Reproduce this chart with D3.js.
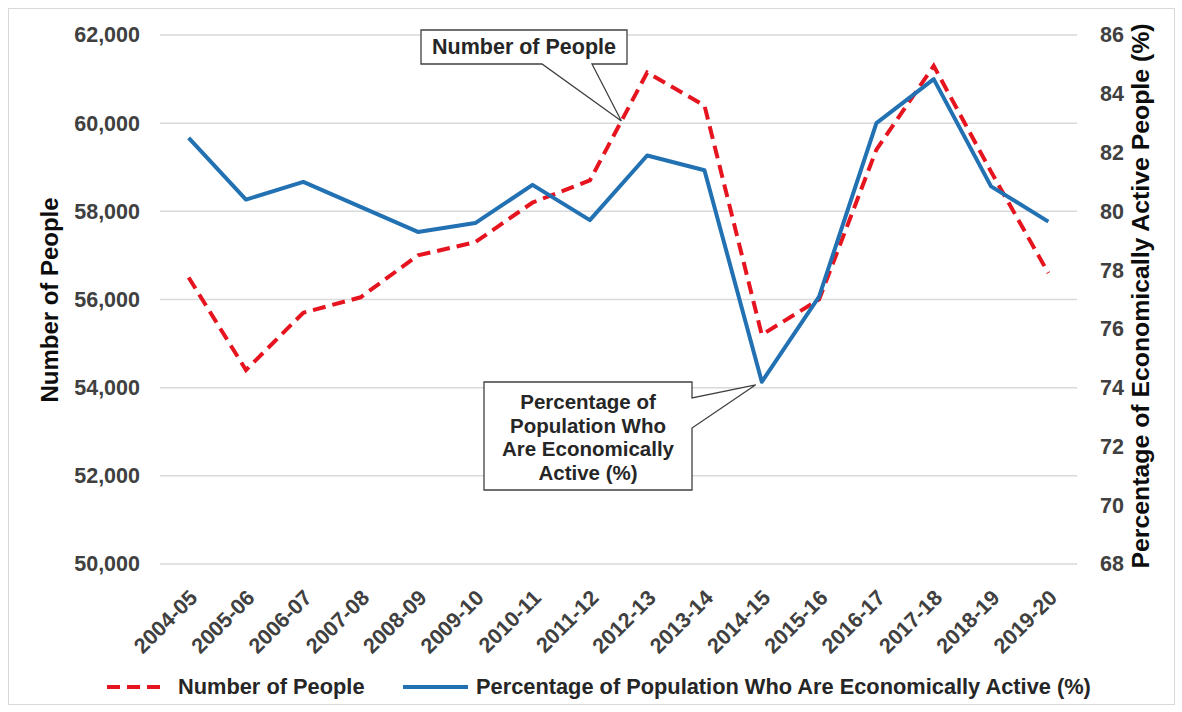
<!DOCTYPE html>
<html>
<head>
<meta charset="utf-8">
<script src="https://cdn.jsdelivr.net/npm/d3@7"></script>
<style>
  html, body { margin: 0; padding: 0; background: #fff; }
  svg { display: block; font-family: "Liberation Sans", Arial, sans-serif; font-weight: bold; }
</style>
</head>
<body>
<svg id="chart" width="1182" height="712"></svg>
<script>
const categories = ["2004-05","2005-06","2006-07","2007-08","2008-09","2009-10","2010-11","2011-12","2012-13","2013-14","2014-15","2015-16","2016-17","2017-18","2018-19","2019-20"];
const people = [56500, 54400, 55700, 56050, 57000, 57300, 58200, 58700, 61150, 60400, 55200, 56000, 59400, 61300, 58900, 56600];
const pctActive = [82.5, 80.4, 81.0, 80.15, 79.3, 79.6, 80.9, 79.7, 81.9, 81.4, 74.2, 77.1, 83.0, 84.5, 80.85, 79.65];
const leftTicks = [50000, 52000, 54000, 56000, 58000, 60000, 62000];
const rightTicks = [68, 70, 72, 74, 76, 78, 80, 82, 84, 86];
const seriesNames = ["Number of People", "Percentage of Population Who Are Economically Active (%)"];
const leftTitle = "Number of People";
const rightTitle = "Percentage of Economically Active People (%)";
const callout1 = ["Number of People"];
const callout2 = ["Percentage of", "Population Who", "Are Economically", "Active (%)"];

const RED = "#e5141f", BLUE = "#2271b3", GRID = "#d9d9d9", TXT = "#404040";
const svg = d3.select("#chart");

// outer border
svg.append("rect").attr("x", 8.5).attr("y", 8.5).attr("width", 1166).attr("height", 696)
  .attr("fill", "#fff").attr("stroke", "#d9d9d9").attr("stroke-width", 1);

const plot = {left: 160, right: 1077, top: 35, bottom: 564};
const x = d3.scaleBand().domain(categories).range([plot.left, plot.right]).padding(0);
const cx = d => x(d) + x.bandwidth() / 2;
const yL = d3.scaleLinear().domain([50000, 62000]).range([plot.bottom, plot.top]);
const yR = d3.scaleLinear().domain([68, 86]).range([plot.bottom, plot.top]);

// gridlines
svg.append("g").selectAll("line").data(leftTicks).join("line")
  .attr("x1", plot.left).attr("x2", plot.right)
  .attr("y1", d => yL(d)).attr("y2", d => yL(d))
  .attr("stroke", GRID).attr("stroke-width", 1.5);

// left axis
const gL = svg.append("g").attr("transform", `translate(${plot.left - 20},0)`)
  .call(d3.axisLeft(yL).tickValues(leftTicks).tickSize(0).tickPadding(0).tickFormat(d3.format(",")));
gL.select(".domain").remove();
gL.selectAll("text").attr("fill", TXT).attr("font-size", 21.5).attr("font-weight", "bold")
  .attr("font-family", "Liberation Sans, Arial, sans-serif");

// right axis
const gR = svg.append("g").attr("transform", `translate(${plot.right + 23},0)`)
  .call(d3.axisRight(yR).tickValues(rightTicks).tickSize(0).tickPadding(0));
gR.select(".domain").remove();
gR.selectAll("text").attr("fill", TXT).attr("font-size", 21.5).attr("font-weight", "bold")
  .attr("font-family", "Liberation Sans, Arial, sans-serif");

// x labels
svg.append("g").selectAll("text").data(categories).join("text")
  .attr("transform", d => `translate(${cx(d) + 10},${plot.bottom + 35}) rotate(-45)`)
  .attr("text-anchor", "end").attr("fill", TXT).attr("font-size", 21.5)
  .text(d => d);

// axis titles
svg.append("text").attr("transform", "translate(58,300) rotate(-90)")
  .attr("text-anchor", "middle").attr("font-size", 23).attr("fill", "#0d0d0d")
  .attr("textLength", 205).attr("lengthAdjust", "spacingAndGlyphs").text(leftTitle);
svg.append("text").attr("transform", "translate(1149,296) rotate(-90)")
  .attr("text-anchor", "middle").attr("font-size", 23).attr("fill", "#0d0d0d")
  .attr("textLength", 545).attr("lengthAdjust", "spacingAndGlyphs").text(rightTitle);

// lines
const lineL = d3.line().x((d, i) => cx(categories[i])).y(d => yL(d));
const lineR = d3.line().x((d, i) => cx(categories[i])).y(d => yR(d));
svg.append("path").datum(people).attr("d", lineL).attr("fill", "none")
  .attr("stroke", RED).attr("stroke-width", 4).attr("stroke-dasharray", "13,7");
svg.append("path").datum(pctActive).attr("d", lineR).attr("fill", "none")
  .attr("stroke", BLUE).attr("stroke-width", 4).attr("stroke-linejoin", "round");

// callout 1 (points to red line between 2011-12 and 2012-13)
{
  const i = categories.indexOf("2011-12"), t = 0.55;
  const tx = cx(categories[i]) + t * (cx(categories[i + 1]) - cx(categories[i]));
  const ty = yL(people[i]) + t * (yL(people[i + 1]) - yL(people[i]));
  const bx0 = 421, bx1 = 627, by0 = 30, by1 = 64;
  const p = `M${bx0},${by0}H${bx1}V${by1}H592L${tx},${ty}L542,${by1}H${bx0}Z`;
  svg.append("path").attr("d", p).attr("fill", "#fff").attr("stroke", "#404040").attr("stroke-width", 1.3);
  svg.append("text").attr("x", (bx0 + bx1) / 2).attr("y", (by0 + by1) / 2 + 7)
    .attr("text-anchor", "middle").attr("font-size", 21.5).attr("fill", "#262626").text(callout1[0]);
}
// callout 2 (points to blue line minimum, 2014-15)
{
  const i = categories.indexOf("2014-15");
  const tx = cx(categories[i]) - 6, ty = yR(pctActive[i]) + 3;
  const bx0 = 484, bx1 = 692, by0 = 382, by1 = 490;
  const p = `M${bx0},${by0}H${bx1}V398L${tx},${ty}L${bx1},428V${by1}H${bx0}Z`;
  svg.append("path").attr("d", p).attr("fill", "#fff").attr("stroke", "#404040").attr("stroke-width", 1.3);
  svg.append("g").selectAll("text").data(callout2).join("text")
    .attr("x", (bx0 + bx1) / 2).attr("y", (d, k) => 409 + k * 23.5)
    .attr("text-anchor", "middle").attr("font-size", 20.5).attr("fill", "#262626").text(d => d);
}

// legend
const lg = svg.append("g");
lg.append("line").attr("x1", 107).attr("x2", 164).attr("y1", 687).attr("y2", 687)
  .attr("stroke", RED).attr("stroke-width", 4).attr("stroke-dasharray", "13,7");
lg.append("text").attr("x", 178).attr("y", 694).attr("font-size", 21.8).attr("fill", "#262626").text(seriesNames[0]);
lg.append("line").attr("x1", 403).attr("x2", 468).attr("y1", 687).attr("y2", 687)
  .attr("stroke", BLUE).attr("stroke-width", 4);
lg.append("text").attr("x", 476).attr("y", 694).attr("font-size", 21.8).attr("fill", "#262626").text(seriesNames[1]);
</script>
</body>
</html>
